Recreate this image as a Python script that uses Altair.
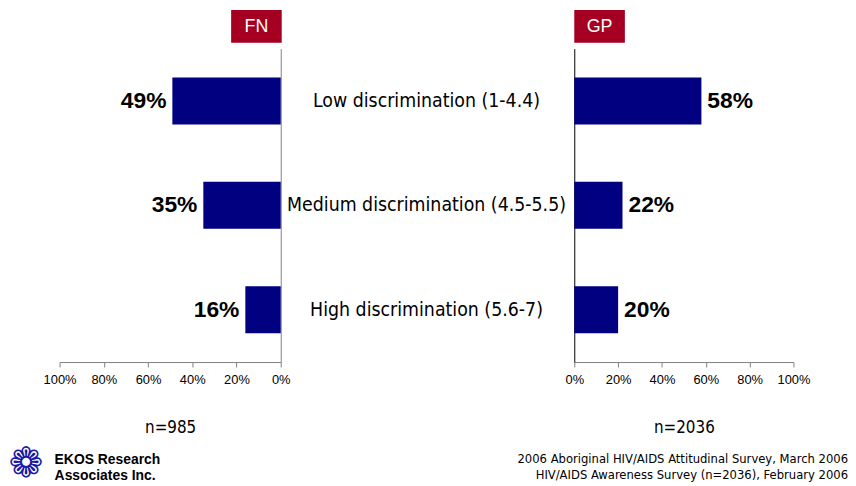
import altair as alt
import pandas as pd

categories = ["Low discrimination (1-4.4)", "Medium discrimination (4.5-5.5)", "High discrimination (5.6-7)"]
fn_values = [0.49, 0.35, 0.16]
gp_values = [0.58, 0.22, 0.20]
tick_values = [0, 0.2, 0.4, 0.6, 0.8, 1.0]
panel_titles = ["FN", "GP"]
sample_sizes = ["n=985", "n=2036"]
footnotes = ["2006 Aboriginal HIV/AIDS Attitudinal Survey, March 2006",
             "HIV/AIDS Awareness Survey (n=2036), February 2006"]
company = ["EKOS Research", "Associates Inc."]

fn_df = pd.DataFrame({"cat": categories, "v": fn_values})
gp_df = pd.DataFrame({"cat": categories, "v": gp_values})
mid_df = pd.DataFrame({"cat": categories})

BAR = "#000080"
RED = "#A50021"
H = 316
NARROW = "DejaVu Sans Condensed"
ARIAL = "Liberation Sans"

yscale = alt.Scale(domain=categories, paddingInner=0.55, paddingOuter=0.275)


def xaxis(title):
    return alt.Axis(values=tick_values, format=".0%", grid=False, title=title,
                    labelFont=ARIAL, labelFontSize=13, labelColor="#000000",
                    labelOverlap=False, labelFlush=False,
                    labelPadding=7, tickSize=5, tickColor="#808080",
                    domainColor="#808080", titleFont=NARROW, titleFontSize=17,
                    titleFontWeight="normal", titleColor="#000000", titlePadding=33)


def panel(df, title, ntext, reverse, width, y_orient, ydomain_color):
    x = alt.X("v:Q", scale=alt.Scale(domain=[0, 1], reverse=reverse, nice=False),
              axis=xaxis(ntext))
    y = alt.Y("cat:N", scale=yscale, sort=categories,
              axis=alt.Axis(orient=y_orient, labels=False, ticks=False, title=None,
                            domainColor=ydomain_color, grid=False))
    base = alt.Chart(df)
    bars = base.mark_bar(color=BAR).encode(x=x, y=y)
    labels = base.mark_text(
        font=ARIAL, fontSize=23, fontWeight="bold", color="#000000",
        align="right" if reverse else "left", dx=-6 if reverse else 6, baseline="middle"
    ).encode(x="v:Q", y="cat:N", text=alt.Text("v:Q", format=".0%"))
    tdf = pd.DataFrame({"t": [title]})
    if reverse:
        bx, bx2 = width - 50, width + 1
    else:
        bx, bx2 = 0, 51
    box = alt.Chart(tdf).mark_rect(color=RED).encode(
        x=alt.value(bx), x2=alt.value(bx2), y=alt.value(-39), y2=alt.value(-6))
    btxt = alt.Chart(tdf).mark_text(font=ARIAL, fontSize=18, color="white",
                                     baseline="middle", align="center").encode(
        x=alt.value((bx + bx2) / 2), y=alt.value(-22), text="t:N")
    return alt.layer(bars, labels, box, btxt)


left = panel(fn_df, panel_titles[0], sample_sizes[0], True, 223, "right", "#808080")

comp_df = pd.DataFrame({"t": company, "i": [0, 1]})
comp = alt.Chart(comp_df).mark_text(font=ARIAL, fontSize=14, fontWeight="bold",
                                    color="#000000", align="left", baseline="middle").encode(
    x=alt.value(-5), y=alt.Y("i:O", scale=alt.Scale(range=[415, 431], padding=0), axis=None),
    text="t:N")
logo = alt.Chart(pd.DataFrame({"t": ["\u2741"]})).mark_text(
    font="DejaVu Sans", fontSize=42, color="#1a1aa6", align="center", baseline="middle").encode(
    x=alt.value(-34), y=alt.value(419), text="t:N")
left = alt.layer(left, comp, logo).resolve_scale(y="independent").properties(width=223, height=H)

middle = alt.Chart(mid_df).mark_text(font=NARROW, fontSize=19.5, color="#000000",
                                     align="center", baseline="middle").encode(
    y=alt.Y("cat:N", scale=yscale, sort=categories, axis=None),
    x=alt.value(147), text="cat:N").properties(width=296, height=H)

right = panel(gp_df, panel_titles[1], sample_sizes[1], False, 221, "left", "#000000")
foot_df = pd.DataFrame({"t": footnotes, "i": [0, 1]})
foot = alt.Chart(foot_df).mark_text(font=NARROW, fontSize=13, color="#000000",
                                    align="right", baseline="middle").encode(
    x=alt.value(276), y=alt.Y("i:O", scale=alt.Scale(range=[414, 430], padding=0), axis=None),
    text="t:N")
right = alt.layer(right, foot).resolve_scale(y="independent").properties(width=221, height=H)

chart = alt.hconcat(left, middle, right, spacing=0, bounds="flush").properties(
    padding=0, background="white",
).configure_view(stroke=None).configure_concat(spacing=0)

chart.save("out.html", embed_options={"renderer": "svg", "actions": False})
